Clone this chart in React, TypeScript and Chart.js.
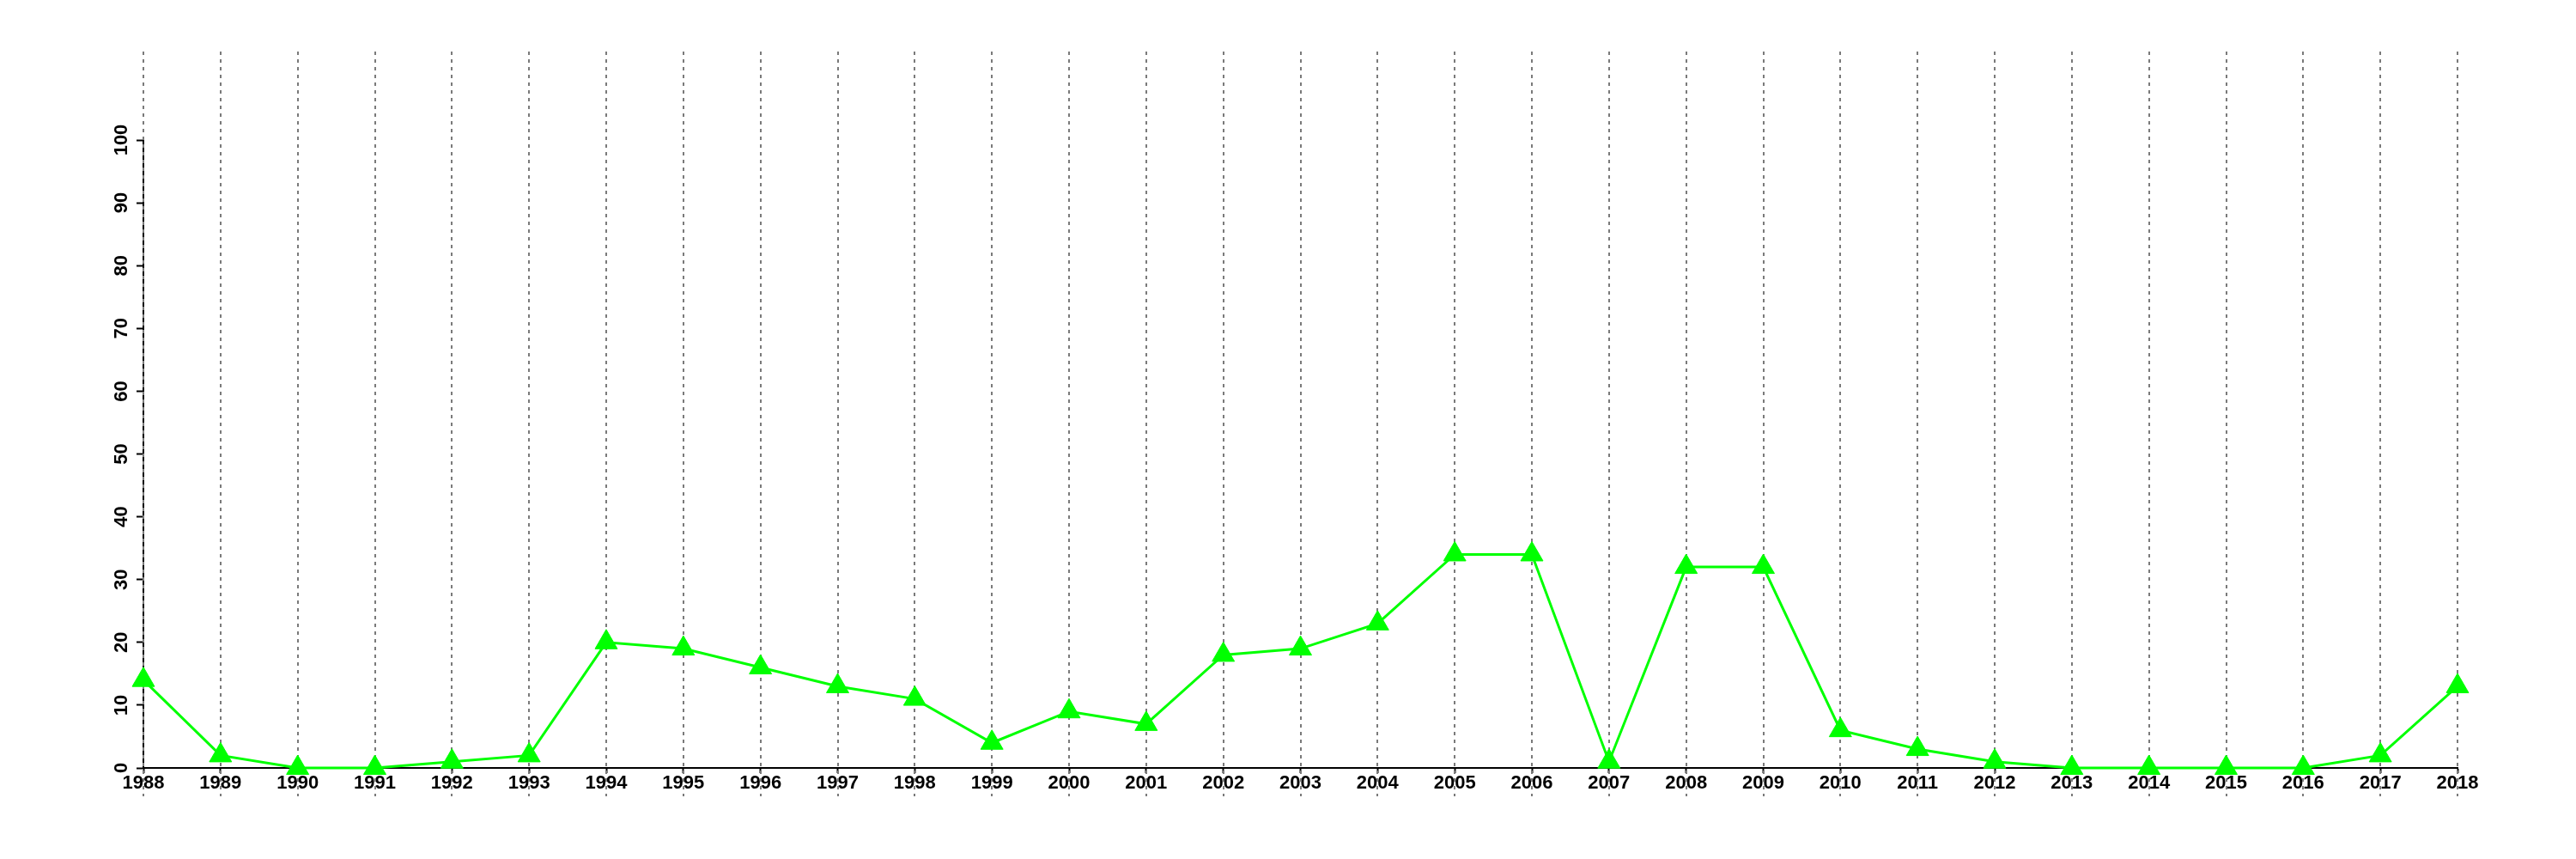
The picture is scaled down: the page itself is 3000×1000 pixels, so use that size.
import React, { useEffect, useRef } from "react";
import { Chart, registerables } from "chart.js";

Chart.register(...registerables);

const years = [
  "1988", "1989", "1990", "1991", "1992", "1993", "1994", "1995", "1996", "1997",
  "1998", "1999", "2000", "2001", "2002", "2003", "2004", "2005", "2006", "2007",
  "2008", "2009", "2010", "2011", "2012", "2013", "2014", "2015", "2016", "2017", "2018",
];

const values = [
  14, 2, 0, 0, 1, 2, 20, 19, 16, 13,
  11, 4, 9, 7, 18, 19, 23, 34, 34, 1,
  32, 32, 6, 3, 1, 0, 0, 0, 0, 2, 13,
];

const yTicks = [0, 10, 20, 30, 40, 50, 60, 70, 80, 90, 100];

const FONT = '"Liberation Sans", Arial, Helvetica, sans-serif';

const dashPlugin = {
  id: "verticalDashes",
  beforeDatasetsDraw(chart: any) {
    const xs = chart.scales.x;
    const ctx = chart.ctx;
    ctx.save();
    ctx.strokeStyle = "#7a7a7a";
    ctx.lineWidth = 2;
    ctx.setLineDash([4, 5]);
    xs.ticks.forEach((_t: any, i: number) => {
      const x = Math.round(xs.getPixelForTick(i));
      ctx.beginPath();
      ctx.moveTo(x, 60);
      ctx.lineTo(x, 927);
      ctx.stroke();
    });
    ctx.restore();
  },
};

const yLabelPlugin = {
  id: "rotatedYLabels",
  afterDraw(chart: any) {
    const ys = chart.scales.y;
    const ctx = chart.ctx;
    ctx.save();
    ctx.font = `bold 22px ${FONT}`;
    ctx.fillStyle = "#000";
    ctx.textAlign = "center";
    ctx.textBaseline = "middle";
    yTicks.forEach((v) => {
      const y = ys.getPixelForValue(v);
      ctx.save();
      ctx.translate(142, y);
      ctx.rotate(-Math.PI / 2);
      ctx.fillText(String(v), 0, 0);
      ctx.restore();
    });
    ctx.restore();
  },
};

export default function App() {
  const ref = useRef<HTMLCanvasElement | null>(null);

  useEffect(() => {
    if (!ref.current) return;
    const chart = new Chart(ref.current, {
      type: "line",
      data: {
        labels: years,
        datasets: [
          {
            data: values,
            borderColor: "#00ff00",
            backgroundColor: "#00ff00",
            borderWidth: 3,
            pointStyle: "triangle",
            pointRadius: 15,
            pointHoverRadius: 15,
            pointBorderWidth: 1,
            pointBackgroundColor: "#00ff00",
            pointBorderColor: "#00ff00",
            tension: 0,
            fill: false,
            clip: false as any,
          },
        ],
      },
      options: {
        responsive: false,
        animation: false,
        events: [],
        layout: { padding: { left: 127, right: 138, top: 163, bottom: 66 } },
        plugins: {
          legend: { display: false },
          tooltip: { enabled: false },
          title: { display: false },
        },
        scales: {
          x: {
            type: "category",
            offset: false,
            z: 1,
            border: { display: true, color: "#000", width: 2 },
            grid: {
              drawOnChartArea: false,
              drawTicks: true,
              tickLength: 6,
              tickColor: "#000",
              tickWidth: 2,
            },
            ticks: {
              autoSkip: false,
              maxRotation: 0,
              minRotation: 0,
              padding: -1,
              color: "#000",
              font: { family: FONT, weight: "bold", size: 22 },
            },
            afterFit: (s: any) => {
              s.height = 40;
            },
          },
          y: {
            type: "linear",
            min: 0,
            max: 100,
            z: 1,
            border: { display: true, color: "#000", width: 2 },
            grid: {
              drawOnChartArea: false,
              drawTicks: true,
              tickLength: 8,
              tickColor: "#000",
              tickWidth: 2,
            },
            ticks: { display: false, stepSize: 10 },
            afterFit: (s: any) => {
              s.width = 40;
            },
          },
        },
      },
      plugins: [dashPlugin, yLabelPlugin],
    });
    return () => chart.destroy();
  }, []);

  return (
    <div style={{ position: "absolute", left: 0, top: 0, width: 3000, height: 1000, background: "#fff" }}>
      <canvas ref={ref} width={3000} height={1000} style={{ display: "block" }} />
    </div>
  );
}
